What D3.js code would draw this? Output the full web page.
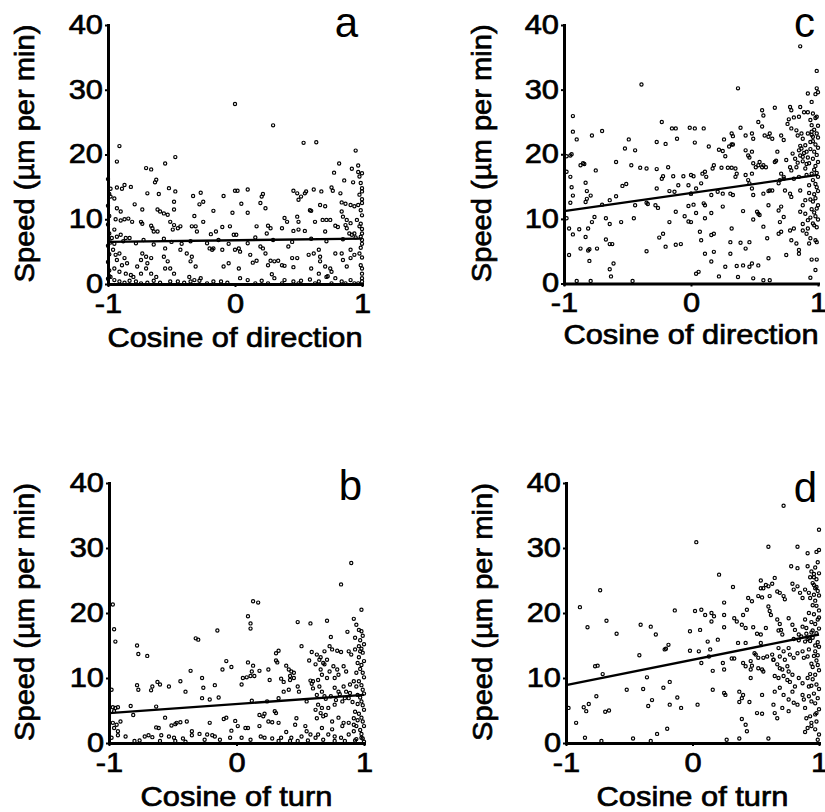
<!DOCTYPE html>
<html>
<head>
<meta charset="utf-8">
<script src="https://cdn.jsdelivr.net/npm/d3@7/dist/d3.min.js"></script>
<style>
  html, body { margin: 0; padding: 0; background: #fff; }
  svg { display: block; }
</style>
</head>
<body>
<script>
// Axis ticks and labels
const xTicks = [-1, 0, 1];
const yTicks = [0, 10, 20, 30, 40];
const yTitle = "Speed (\u00b5m per min)";
const xTitleDirection = "Cosine of direction";
const xTitleTurn = "Cosine of turn";

// Each point: [cosine, speed in µm per min]
const panelA = [
[0.0,27.8],[-0.91,21.3],[-0.93,18.9],[-0.47,19.6],[-0.55,18.6],[-0.70,17.9],[-0.66,17.7],[-0.62,16.1],[-0.63,15.7],
[-0.87,15.3],[-0.82,15.0],[-0.93,14.9],[-0.89,14.7],[-0.98,14.7],[-0.52,14.8],[-0.47,14.3],[-0.69,14.0],[-0.60,13.9],
[-0.33,13.6],[-0.27,14.1],[-0.09,13.6],[0.0,14.4],[-0.98,13.5],[-0.95,13.2],[-0.48,12.7],[-0.79,12.3],[-0.73,11.5],
[-0.25,12.7],[-0.28,12.3],[-0.93,11.7],[-0.90,11.2],[-0.61,11.5],[-0.59,11.2],[-0.56,10.9],[-0.53,10.7],[-0.48,11.5],
[-0.32,10.5],[-0.17,11.3],[-0.02,11.0],[-0.94,10.0],[-0.90,9.8],[-0.87,10.0],[-0.84,10.1],[-0.81,9.6],[-0.74,9.6],
[-0.73,9.3],[-0.66,9.0],[-0.65,8.6],[-0.64,8.1],[-0.61,8.1],[-0.51,9.6],[-0.48,9.1],[-0.49,8.4],[-0.45,8.6],[-0.43,8.9],
[-0.34,8.9],[-0.31,8.9],[-0.30,8.1],[-0.25,9.6],[-0.15,8.1],[-0.19,7.7],[-0.10,8.8],[-0.04,8.9],[-0.01,7.6],
[-0.95,8.4],[-0.93,7.3],[-0.97,7.1],[-0.90,7.6],[-0.86,7.1],[-0.83,7.1],[-0.72,6.8],[-0.56,7.0],
[-0.96,5.3],[-0.94,4.5],[-0.91,4.7],[-0.93,3.7],[-0.87,4.0],[-0.85,3.2],[-0.89,2.9],[-0.95,2.4],[-0.91,1.9],[-0.86,1.6],
[-0.82,1.4],[-0.80,1.1],[-0.77,2.7],[-0.74,3.7],[-0.73,4.7],[-0.70,4.2],[-0.66,4.0],[-0.69,3.2],[-0.70,2.4],[-0.74,1.6],
[-0.66,1.6],[-0.62,1.1],[-0.64,0.5],[-0.59,0.2],[-0.55,5.5],[-0.56,4.2],[-0.53,3.5],[-0.55,2.4],[-0.51,2.4],[-0.48,1.6],
[-0.43,5.3],[-0.38,4.7],[-0.35,3.5],[-0.34,4.2],[-0.31,2.7],[-0.36,1.1],[-0.32,0.6],[-0.27,0.9],[-0.20,5.5],[-0.17,5.5],
[-0.18,5.3],[-0.10,5.3],[-0.09,2.7],[-0.05,3.2],[0.0,5.3],[-0.51,0.4],[-0.45,0.4],[-0.40,0.2],[-0.35,0.4],[-0.28,0.5],
[-0.22,0.1],[-0.17,0.4],[-0.11,0.4],[-0.06,0.2],[-0.98,1.1],[-0.95,0.6],[-0.91,0.4],[-0.87,0.2],[-0.83,0.5],[-0.78,0.4],
[-0.74,0.1],[-0.69,0.2],
[-1,0.8],[-0.99,2.1],[-1,3.4],[-0.99,4.6],[-1,5.9],[-0.99,7.8],[-1,9.2],[-0.99,10.5],[-1,12.1],[-0.99,13.9],[-1,16.2],
[-0.98,6.4],[-0.99,1.2],[-0.95,6.2],[-0.88,6.6],[-0.78,6.3],[-0.64,6.1],[-0.50,6.5],[-0.42,6.2],[-0.35,6.6],[-0.22,6.3],
[-0.13,6.8],[-0.05,6.2],
[0.30,24.5],[0.54,21.8],[0.64,21.9],[0.95,20.6],[0.82,18.6],[0.97,18.3],[0.92,17.8],[0.78,17.2],[0.86,16.0],[0.93,15.7],
[0.97,17.3],[1.0,17.1],[0.98,16.6],[1.0,14.8],[1.0,14.3],[0.98,13.8],[0.02,14.4],[0.10,14.6],[0.22,13.9],[0.21,13.5],
[0.46,14.4],[0.49,14.0],[0.50,13.0],[0.52,13.5],[0.55,14.0],[0.56,14.3],[0.62,14.6],[0.68,14.3],[0.76,14.9],[0.77,14.4],
[0.83,14.0],[0.05,12.4],[0.20,12.5],[0.24,11.7],[0.10,11.0],[0.67,12.2],[0.71,12.0],[0.60,11.3],[0.59,11.4],[0.84,12.6],
[0.87,12.4],[0.91,12.2],[0.94,12.0],[0.97,12.2],[1.0,12.5],[0.84,11.2],[0.85,10.4],[0.88,9.9],[0.87,9.1],[0.91,9.4],
[0.39,10.2],[0.41,9.6],[0.49,10.4],[0.50,9.6],[0.69,9.9],[0.72,9.9],[0.75,9.9],[0.63,9.6],[0.96,9.9],[0.98,8.9],
[1.0,7.8],[1.0,6.8],[0.94,7.8],[0.17,8.9],[0.26,9.0],[0.28,8.6],[0.37,8.6],[0.46,8.2],[0.50,8.4],[0.55,8.2],
[0.71,8.1],[0.79,9.0],[0.81,8.8],[0.88,8.6],[0.92,7.6],[0.90,7.8],[0.25,7.8],[0.16,7.2],[0.01,7.6],
[0.03,5.5],[0.04,5.0],[0.20,5.8],[0.22,5.5],[0.24,4.7],[0.12,4.5],[0.17,3.6],[0.14,3.3],[0.26,2.9],[0.28,3.6],
[0.31,3.5],[0.34,3.6],[0.37,2.9],[0.39,2.8],[0.42,5.8],[0.45,4.0],[0.49,4.0],[0.46,2.6],[0.58,4.5],[0.62,4.7],
[0.66,5.3],[0.67,4.2],[0.67,3.5],[0.71,2.7],[0.75,2.4],[0.76,1.9],[0.60,2.4],[0.66,1.6],[0.72,1.1],[0.79,4.7],
[0.84,4.7],[0.85,3.7],[0.88,2.7],[0.91,5.3],[0.91,4.0],[0.94,4.5],[0.98,4.7],[1.0,2.4],[1.0,1.6],[0.03,2.4],
[0.04,0.9],[0.10,0.6],[0.21,0.5],[0.29,1.5],[0.31,0.9],[0.39,0.6],[0.46,0.4],[0.52,0.5],[0.59,0.7],[0.66,0.4],
[0.73,1.2],[0.79,0.9],[0.84,0.4],[0.91,0.6],[0.97,0.1],[1.0,0.4],[0.16,0.1],[0.26,0.1],[0.37,0.1],[0.50,0.1],
[0.63,0.1],[0.76,0.1],[0.87,0.1],[0.94,0.1],
[1.0,0.9],[0.99,2.9],[1.0,4.1],[0.99,5.6],[1.0,6.2],[0.99,7.3],[1.0,8.5],[0.99,9.3],[1.0,10.6],[0.99,11.4],[1.0,13.1],
[0.99,15.6],[0.10,6.3],[0.30,6.8],[0.45,6.5],[0.60,7.0],[0.72,6.6],[0.85,6.9],[0.95,7.2]
];

const panelB = [
[-0.97,21.3],[-0.96,17.5],[-0.95,15.6],[-0.78,15.0],[-0.77,13.7],[-0.70,13.4],[-0.32,16.1],[-0.30,15.9],[-0.15,17.3],
[-0.36,11.1],[-0.08,12.6],[-0.11,11.3],[-0.04,11.7],[-0.44,9.5],[-0.40,7.9],[-0.27,10.0],[-0.26,8.5],[-0.27,6.9],
[-0.21,6.7],[-0.17,8.9],[-0.14,7.0],[-0.62,9.4],[-0.60,9.0],[-0.53,8.7],[-0.66,8.7],[-0.67,8.1],[-0.78,8.9],[-0.77,8.2],
[-0.98,8.2],[-0.97,5.5],[-0.95,5.4],[-0.93,5.5],[-0.96,4.9],[-0.83,5.7],[-0.63,5.6],[-0.81,4.3],[-0.56,3.9],
[-0.97,3.1],[-0.94,2.8],[-0.91,3.3],[-0.96,2.3],[-0.93,1.8],[-0.63,2.4],[-0.61,2.3],[-0.51,2.7],[-0.48,2.9],[-0.47,3.1],
[-0.44,3.2],[-0.39,3.3],[-0.21,3.1],[-0.10,3.7],[-0.08,3.9],[-0.04,1.9],[-0.35,1.8],[-0.35,1.2],[-0.29,1.4],[-0.23,1.3],
[-0.19,1.2],[-0.17,1.0],[-0.93,1.2],[-0.87,1.0],[-0.72,1.0],[-0.69,1.2],[-0.66,0.9],[-0.59,1.2],[-0.53,1.0],[-0.49,0.8],
[-0.42,0.7],[-0.98,0.8],[-0.80,0.3],[-0.76,0.4],[-0.60,0.3],[-0.48,0.3],[-0.25,0.5],[-0.13,0.5],[-0.05,0.8],[-0.40,0.2],
[0.90,27.7],[0.82,24.4],[0.13,21.8],[0.17,21.6],[0.09,19.5],[0.11,18.4],[0.11,17.6],[0.48,18.6],[0.58,18.4],[0.71,18.8],
[0.98,20.5],[0.92,19.1],[0.94,18.2],[0.96,17.4],[0.98,17.2],[0.87,17.1],[0.93,16.2],[0.74,16.3],[0.51,14.9],[0.33,14.2],
[0.31,13.8],[0.31,12.7],[0.32,12.4],[0.59,14.0],[0.63,13.6],[0.66,13.2],[0.69,14.1],[0.73,14.9],[0.75,14.4],[0.79,14.2],
[0.82,14.0],[0.88,14.1],[0.90,13.6],[0.93,14.4],[0.96,14.9],[0.97,14.1],[0.57,12.7],[0.65,12.8],[0.68,12.3],[0.71,12.8],
[0.09,12.4],[0.13,11.9],[0.18,11.1],[0.12,11.0],[0.25,11.3],[0.39,11.9],[0.41,11.3],[0.43,11.0],[0.45,10.8],[0.42,10.3],
[0.45,10.0],[0.62,12.1],[0.66,11.3],[0.69,12.1],[0.73,11.0],[0.76,11.8],[0.79,11.3],[0.80,10.5],[0.84,11.8],[0.86,11.0],
[0.77,10.0],[0.71,10.0],[0.67,10.5],[0.64,9.7],[0.60,9.5],[0.05,10.0],[0.08,10.1],[0.11,10.3],[0.14,10.3],[0.04,9.0],
[0.26,9.7],[0.35,9.9],[0.37,9.4],[0.42,9.7],[0.37,7.9],[0.41,8.2],[0.48,8.7],[0.49,7.9],[0.33,6.9],[0.12,6.5],[0.24,6.4],
[0.58,9.6],[0.59,9.1],[0.60,8.4],[0.65,8.7],[0.67,7.9],[0.63,7.4],[0.69,7.2],[0.77,8.5],[0.80,7.9],[0.84,8.7],[0.86,7.9],
[0.89,9.0],[0.92,9.5],[0.94,8.7],[0.88,6.9],[0.83,6.4],[0.77,5.9],[0.72,5.4],[0.55,6.4],[0.64,5.9],[0.67,5.4],[0.62,5.1],
[0.66,4.6],[0.70,4.3],[0.63,3.8],[-0.01,3.4],[0.01,2.6],[0.07,2.3],[0.09,2.3],[0.18,4.3],[0.21,4.1],[0.22,4.5],[0.18,2.6],
[0.25,3.3],[0.28,3.2],[0.30,4.9],[0.31,4.6],[0.33,3.1],[0.47,3.8],[0.46,2.8],[0.54,2.6],[0.55,1.8],[0.58,1.3],[0.51,1.0],
[0.39,1.7],[0.43,0.8],[0.42,0.3],[0.68,4.1],[0.75,3.3],[0.80,3.9],[0.84,3.1],[0.83,2.6],[0.75,2.1],[0.67,2.3],[0.64,1.3],
[0.62,0.8],[0.68,0.5],[0.72,1.3],[0.77,1.0],[0.82,0.8],[0.88,1.3],[0.92,1.8],[0.92,2.8],[0.94,2.6],[0.88,3.1],[0.92,3.8],
[0.04,0.8],[0.11,0.5],[0.19,1.0],[0.22,0.8],[0.28,0.7],[0.33,0.3],[0.35,0.8],[0.48,0.3],[0.56,0.4],[0.77,0.3],[0.85,0.3],
[0.93,0.4],[0.98,0.8],
[0.99,16.5],[0.97,15.8],[1.0,15.2],[0.98,14.5],[0.99,13.9],[0.96,13.2],[1.0,12.6],[0.98,12.0],[0.97,11.4],[0.99,10.8],
[1.0,10.1],[0.96,9.5],[0.98,8.9],[0.99,8.2],[1.0,7.6],[0.97,7.0],[0.98,6.4],[0.99,5.8],[1.0,5.1],[0.96,4.5],[0.98,3.9],
[0.99,3.3],[1.0,2.6],[0.97,2.0],[0.98,1.4],[0.99,0.7],[1.0,0.2],[0.95,12.3],[0.94,10.8],[0.95,6.0],[0.93,4.8],[0.95,3.5],
[0.94,0.6],[0.70,6.8],[0.74,7.2],[0.78,6.6],[0.81,7.5],[0.85,6.9],[0.89,7.7],[0.91,6.3],[0.95,7.4]
];

const panelC = [
[-0.39,30.8],[-0.93,25.9],[-0.93,23.5],[-0.90,22.3],[-0.78,22.9],[-0.70,23.6],[-0.49,22.3],[-0.52,20.9],[-0.44,20.6],
[-0.23,25.0],[-0.15,24.0],[-0.12,24.0],[-0.27,21.9],[-0.20,21.6],[-0.11,22.4],[-0.01,24.1],[-0.98,19.7],[-0.95,19.8],
[-0.94,20.0],[-0.87,18.3],[-0.85,18.6],[-0.84,18.5],[-0.75,17.5],[-0.59,18.8],[-0.47,18.3],[-0.40,17.9],[-0.35,17.8],
[-0.27,17.7],[-0.18,18.0],[-0.98,17.3],[-0.95,16.5],[-0.94,14.9],[-0.93,13.6],[-0.95,12.5],[-0.83,15.6],[-0.82,14.3],
[-0.79,13.6],[-0.82,13.1],[-0.83,12.6],[-0.54,15.1],[-0.51,15.4],[-0.59,13.5],[-0.64,12.9],[-0.70,12.2],[-0.44,12.1],
[-0.35,12.5],[-0.34,12.3],[-0.27,14.7],[-0.28,12.1],[-0.26,11.7],[-0.23,16.2],[-0.22,16.6],[-0.14,16.6],[-0.10,15.2],
[-0.06,16.6],[-0.17,14.3],[-0.13,14.2],[-0.02,15.2],[0.0,13.9],[-0.02,12.0],[-0.98,10.1],[-0.96,8.5],[-0.93,7.6],
[-0.88,8.4],[-0.83,7.2],[-0.81,8.5],[-0.78,9.5],[-0.76,10.3],[-0.67,10.1],[-0.64,9.2],[-0.55,9.5],[-0.45,10.1],
[-0.17,9.5],[-0.05,10.4],[-0.02,9.6],[-0.12,11.1],[-0.25,7.1],[-0.22,7.7],[-0.20,5.7],[-0.12,6.0],[-0.08,6.1],
[-0.96,4.4],[-0.87,5.4],[-0.81,5.1],[-0.80,5.3],[-0.74,5.4],[-0.80,3.5],[-0.67,6.8],[-0.64,6.1],[-0.62,6.1],[-0.35,5.0],
[-0.61,3.1],[-0.64,2.2],[-0.63,1.1],[-0.90,0.4],[-0.79,0.4],[-0.46,0.4],
[0.86,36.7],[0.99,32.9],[0.37,30.2],[0.99,30.2],[1.0,29.6],[0.98,29.3],[0.92,29.4],[0.95,28.1],[0.56,26.8],[0.57,26.0],
[0.66,27.2],[0.78,27.3],[0.79,26.8],[0.86,27.3],[0.89,26.5],[0.92,26.5],[0.85,25.8],[0.81,25.7],[0.77,25.4],[0.76,24.7],
[0.94,25.3],[0.99,25.8],[0.53,25.0],[0.56,24.3],[0.39,24.1],[0.32,23.2],[0.33,22.8],[0.26,22.3],[0.43,22.9],[0.48,23.2],
[0.49,22.4],[0.03,24.0],[0.10,24.0],[0.03,21.8],[0.14,21.2],[0.22,20.7],[0.25,20.5],[0.27,19.7],[0.30,21.2],[0.32,21.5],
[0.33,21.5],[0.43,20.6],[0.45,19.8],[0.46,19.5],[0.48,20.4],[0.58,22.9],[0.61,22.7],[0.62,23.2],[0.64,22.4],[0.68,20.4],
[0.71,22.9],[0.73,22.2],[0.79,24.0],[0.83,23.7],[0.84,22.9],[0.87,23.2],[0.88,22.4],[0.92,23.2],[0.95,23.5],[0.96,22.7],
[0.94,21.9],[0.90,21.4],[0.91,20.4],[0.88,19.6],[0.0,16.8],[0.02,16.6],[0.09,17.0],[0.11,17.3],[0.12,16.5],[0.18,18.3],
[0.17,17.8],[0.24,17.9],[0.29,17.9],[0.32,17.9],[0.35,17.8],[0.36,17.0],[0.35,16.5],[0.43,16.8],[0.45,16.0],[0.48,17.0],
[0.49,18.6],[0.51,18.0],[0.53,18.3],[0.54,18.8],[0.56,18.0],[0.57,18.3],[0.59,18.0],[0.66,18.8],[0.67,19.0],[0.71,17.0],
[0.73,16.5],[0.75,19.1],[0.78,18.0],[0.79,17.5],[0.83,18.0],[0.85,16.5],[0.81,16.2],[0.85,20.6],[0.86,19.8],[0.87,20.9],
[0.08,15.5],[0.04,14.7],[0.0,13.9],[0.16,13.7],[0.21,14.2],[0.25,13.9],[0.31,13.9],[0.33,13.7],[0.46,15.5],[0.48,14.7],
[0.49,13.7],[0.57,13.9],[0.61,14.3],[0.64,14.4],[0.69,15.5],[0.70,16.0],[0.73,16.2],[0.74,14.4],[0.78,13.9],[0.79,13.4],
[0.86,14.4],[0.90,12.9],[0.88,12.1],[0.86,11.1],[0.90,10.8],[0.92,9.8],[0.88,9.2],[0.92,8.5],[0.02,12.2],[0.04,10.9],
[0.10,12.4],[0.11,12.1],[0.16,10.9],[0.11,10.1],[0.0,9.5],[0.25,11.9],[0.41,11.2],[0.52,11.1],[0.53,10.8],[0.54,10.6],
[0.49,9.9],[0.57,8.8],[0.61,12.1],[0.62,14.4],[0.69,11.3],[0.71,11.9],[0.73,10.3],[0.70,9.5],[0.78,8.2],[0.81,8.5],
[0.79,6.7],[0.83,6.2],[0.85,5.2],[0.88,8.2],[0.91,7.7],[0.94,7.0],[0.93,6.2],[0.98,6.7],[0.99,6.4],[0.07,8.0],[0.08,6.7],
[0.16,7.5],[0.18,7.7],[0.32,8.5],[0.31,6.4],[0.39,6.3],[0.43,5.4],[0.46,6.4],[0.60,7.0],[0.69,7.7],[0.71,8.0],[0.11,4.6],
[0.18,4.9],[0.31,4.6],[0.27,2.6],[0.36,2.7],[0.41,2.8],[0.46,2.6],[0.48,3.1],[0.53,2.8],[0.61,3.9],[0.75,4.4],[0.85,4.6],
[0.16,3.4],[0.04,1.5],[0.06,1.8],[0.22,1.1],[0.37,1.0],[0.49,0.8],[0.57,0.5],[0.62,0.5],[0.95,3.7],[0.99,3.7],[0.98,2.1],
[0.94,0.9],
[0.97,23.8],[0.99,23.2],[1.0,22.6],[0.96,22.0],[0.98,21.5],[1.0,21.0],[0.97,20.4],[0.99,19.9],[0.96,19.3],[1.0,18.8],
[0.98,18.2],[0.97,17.6],[0.99,17.1],[1.0,16.5],[0.96,16.0],[0.98,15.4],[0.99,14.9],[1.0,14.3],[0.97,13.8],[0.98,13.2],
[0.96,12.7],[1.0,12.1],[0.99,11.6],[0.97,11.0],[0.98,10.4],[1.0,9.9],[0.96,9.3],[0.99,8.7],[0.95,23.0],[0.94,20.8],
[0.93,18.6],[0.95,17.0],[0.93,15.2],[0.94,13.0],[0.95,11.5],[0.92,19.5],[0.91,16.8],[0.93,14.0],[0.95,24.5],[0.98,25.6],
[1.0,24.4],[0.96,26.3],[0.94,10.2],[0.97,9.0],[0.80,20.1],[0.82,19.3],[0.84,18.7],[0.86,21.3],[0.88,18.9],[0.89,20.2],
[0.90,17.8],[0.91,18.5]
];

const panelD = [
[-0.73,23.5],[-0.89,20.9],[-0.68,18.8],[-0.83,17.8],[-0.60,16.8],[-0.41,18.2],[-0.33,17.9],[-0.29,16.7],[-0.14,20.4],
[-0.02,17.2],[-0.02,14.2],[-0.42,13.5],[-0.22,14.4],[-0.21,14.5],[-0.19,15.1],[-0.77,11.8],[-0.75,11.9],[-0.71,10.6],
[-0.36,10.1],[-0.52,8.2],[-0.39,8.3],[-0.23,8.5],[-0.18,9.4],[-0.76,7.2],[-0.32,6.6],[-0.35,5.7],[-0.12,7.0],[-0.18,5.9],
[-0.09,5.4],[-0.98,5.4],[-0.86,5.5],[-0.84,4.9],[-0.82,6.0],[-0.69,4.8],[-0.66,5.0],[-0.92,3.1],[-0.28,1.4],[-0.20,2.2],
[-0.85,0.8],[-0.72,0.3],[-0.47,0.7],[-0.33,0.3],
[0.72,36.5],[1.0,32.8],[0.03,30.9],[0.60,30.2],[0.83,30.2],[0.91,29.2],[0.98,29.4],[1.0,29.7],[0.78,27.2],[0.83,26.9],
[0.91,27.2],[0.94,26.4],[0.96,25.5],[0.93,25.5],[0.21,25.9],[0.32,24.0],[0.54,25.0],[0.58,24.3],[0.60,24.1],[0.63,24.5],
[0.65,25.4],[0.54,23.8],[0.56,23.8],[0.67,23.3],[0.69,23.1],[0.72,22.6],[0.73,22.1],[0.79,24.5],[0.80,23.6],[0.83,24.1],
[0.85,23.1],[0.87,22.3],[0.89,23.6],[0.92,23.1],[0.93,22.3],[0.95,24.6],[0.97,23.8],[0.25,21.6],[0.44,22.3],[0.47,21.8],
[0.52,22.6],[0.55,22.4],[0.61,22.6],[0.60,21.0],[0.61,20.3],[0.62,19.7],[0.02,20.3],[0.07,20.5],[0.10,19.7],[0.15,20.0],
[0.17,19.5],[0.15,18.7],[0.25,19.7],[0.33,19.2],[0.35,18.7],[0.40,19.7],[0.43,20.5],[0.06,17.4],[0.25,17.8],[0.39,18.2],
[0.42,17.7],[0.48,17.8],[0.51,16.8],[0.54,16.7],[0.58,17.7],[0.67,19.0],[0.69,18.3],[0.68,17.3],[0.70,17.4],[0.71,16.7],
[0.76,19.2],[0.79,18.2],[0.81,17.4],[0.84,16.7],[0.87,17.9],[0.89,19.0],[0.90,17.7],[0.12,15.6],[0.20,15.9],[0.36,15.4],
[0.42,15.4],[0.54,15.4],[0.05,14.1],[0.14,14.4],[0.13,13.3],[0.31,13.0],[0.33,13.0],[0.49,13.8],[0.50,13.6],[0.52,13.1],
[0.56,13.1],[0.59,13.3],[0.63,13.6],[0.64,12.8],[0.68,14.6],[0.69,13.3],[0.72,14.1],[0.73,12.8],[0.76,14.6],[0.77,13.6],
[0.80,13.1],[0.83,13.8],[0.87,14.1],[0.88,13.1],[0.91,13.3],[0.24,12.3],[0.25,11.3],[0.16,11.1],[0.07,12.3],[0.40,12.3],
[0.42,11.8],[0.46,12.6],[0.47,11.9],[0.46,11.3],[0.52,11.5],[0.55,11.3],[0.56,11.0],[0.64,12.8],[0.67,12.1],[0.69,11.5],
[0.71,11.3],[0.76,11.0],[0.79,10.5],[0.75,11.8],[0.46,10.0],[0.65,10.3],[0.68,10.0],[0.72,10.3],[0.75,9.7],[0.77,9.4],
[0.81,8.7],[0.84,10.0],[0.87,9.2],[0.91,10.0],[0.92,8.7],[0.16,8.2],[0.26,7.4],[0.25,7.7],[0.37,7.9],[0.40,7.4],[0.39,6.9],
[0.37,6.3],[0.45,6.3],[0.55,7.4],[0.65,7.9],[0.69,8.5],[0.72,7.4],[0.76,6.7],[0.79,7.9],[0.80,6.2],[0.83,5.9],[0.87,7.4],
[0.88,6.7],[0.89,5.4],[0.92,7.2],[0.94,6.4],[0.04,5.9],[0.64,5.9],[0.71,5.4],[0.76,4.9],[0.65,4.6],[0.55,4.5],[0.51,4.6],
[0.67,3.8],[0.90,3.8],[0.93,4.1],[0.94,3.1],[0.91,2.3],[0.89,1.7],[0.94,2.6],[0.97,2.1],[0.98,3.3],[0.97,4.4],[0.39,3.7],
[0.42,2.8],[0.43,1.8],[0.27,0.5],[0.37,0.7],[0.60,0.7],[1.0,1.3],[0.99,0.5],
[0.99,27.8],[0.97,27.0],[1.0,26.1],[0.98,25.2],[0.96,24.3],[0.99,23.4],[1.0,22.7],[0.97,21.9],[0.98,21.1],[1.0,20.4],
[0.96,19.8],[0.99,19.0],[0.97,18.3],[1.0,17.6],[0.98,16.9],[0.95,16.2],[0.99,15.5],[1.0,14.8],[0.97,14.1],[0.96,13.4],
[0.98,12.7],[0.99,12.0],[1.0,11.2],[0.97,10.5],[0.95,9.8],[0.98,9.0],[1.0,8.3],[0.96,7.6],[0.99,6.9],[0.97,6.1],[1.0,5.2],
[0.98,4.6],[0.95,21.2],[0.94,18.6],[0.93,15.7],[0.94,12.2],[0.93,10.6],[0.95,17.3],[0.92,20.0],[0.91,16.0],[0.92,14.4],
[0.96,22.8],[0.97,15.0],[0.99,13.5],[1.0,19.3],[0.98,24.0],[0.96,26.0],[0.95,11.7],[0.94,8.8],[0.80,16.0],[0.84,15.8],
[0.86,16.4],[0.89,15.6],[0.90,16.8],[0.92,16.2],[0.94,17.0]
];

// Least-squares fit lines, as end points [cosine, speed]
const fitA = [[-1, 6.5], [1, 7.0]];
const fitB = [[-1, 4.6], [1, 7.4]];
const fitC = [[-1, 11.2], [1, 16.8]];
const fitD = [[-1, 8.9], [1, 16.7]];

const FONT = "'Liberation Sans', Arial, Helvetica, sans-serif";
const STRETCH = 1.1;

const panels = [
  { data: panelA, fit: fitA, letter: "a", xTitle: xTitleDirection,
    left: 108, right: 362, top: 25, bottom: 284, yTitleX: 34, xTitleY: 347, letterX: 358, letterY: 37 },
  { data: panelC, fit: fitC, letter: "c", xTitle: xTitleDirection,
    left: 564, right: 818, top: 25, bottom: 283.5, yTitleX: 491, xTitleY: 344, letterX: 815, letterY: 37 },
  { data: panelB, fit: fitB, letter: "b", xTitle: xTitleTurn,
    left: 109, right: 364, top: 483, bottom: 743, yTitleX: 34, xTitleY: 806, letterX: 362, letterY: 500 },
  { data: panelD, fit: fitD, letter: "d", xTitle: xTitleTurn,
    left: 566, right: 819, top: 483, bottom: 743, yTitleX: 492, xTitleY: 806, letterX: 817, letterY: 502 }
];

const svg = d3.select("body").append("svg")
  .attr("width", 825).attr("height", 812)
  .style("font-family", FONT);

function stretchText(sel, k) {
  sel.each(function () {
    const w = this.getComputedTextLength();
    d3.select(this).attr("textLength", w * k).attr("lengthAdjust", "spacingAndGlyphs");
  });
}

panels.forEach(p => {
  const g = svg.append("g");
  const x = d3.scaleLinear().domain([-1, 1]).range([p.left, p.right]);
  const y = d3.scaleLinear().domain([0, 40]).range([p.bottom, p.top]);

  // scatter points
  g.append("g").selectAll("circle").data(p.data).join("circle")
    .attr("cx", d => x(d[0]))
    .attr("cy", d => y(d[1]))
    .attr("r", 1.6)
    .attr("fill", "none")
    .attr("stroke", "#000")
    .attr("stroke-width", 1.2);

  // regression line
  g.append("path")
    .datum(p.fit)
    .attr("d", d3.line().x(d => x(d[0])).y(d => y(d[1])))
    .attr("fill", "none")
    .attr("stroke", "#000")
    .attr("stroke-width", 2.4);

  // axes
  const xAxis = g.append("g")
    .attr("transform", `translate(0,${p.bottom})`)
    .call(d3.axisBottom(x).tickValues(xTicks).tickSize(3).tickSizeOuter(0)
      .tickPadding(6).tickFormat(d => String(d)));
  const yAxis = g.append("g")
    .attr("transform", `translate(${p.left},0)`)
    .call(d3.axisLeft(y).tickValues(yTicks).tickSize(3).tickSizeOuter(0)
      .tickPadding(2).tickFormat(d => String(d)));

  [xAxis, yAxis].forEach(a => {
    a.attr("font-family", FONT).attr("font-size", 28);
    a.select(".domain").attr("stroke-width", 3).attr("stroke-linecap", "square");
    a.selectAll(".tick line").attr("stroke-width", 2);
    a.selectAll(".tick text").attr("fill", "#000").attr("stroke", "#000").attr("stroke-width", 0.7);
  });
  yAxis.selectAll(".tick text").attr("dy", "0.3em");
  stretchText(xAxis.selectAll(".tick text"), STRETCH);
  stretchText(yAxis.selectAll(".tick text"), STRETCH);

  // axis titles
  const xt = g.append("text")
    .attr("x", (p.left + p.right) / 2)
    .attr("y", p.xTitleY)
    .attr("text-anchor", "middle")
    .attr("font-size", 28)
    .attr("stroke", "#000").attr("stroke-width", 0.7)
    .text(p.xTitle);
  stretchText(xt, STRETCH);

  const yt = g.append("text")
    .attr("transform", `translate(${p.yTitleX},${(p.top + p.bottom) / 2 - 1}) rotate(-90)`)
    .attr("text-anchor", "middle")
    .attr("font-size", 28)
    .attr("stroke", "#000").attr("stroke-width", 0.7)
    .text(yTitle);
  stretchText(yt, 1.04);

  // panel letter
  g.append("text")
    .attr("x", p.letterX)
    .attr("y", p.letterY)
    .attr("text-anchor", "end")
    .attr("font-size", 42)
    .text(p.letter);
});
</script>
</body>
</html>
